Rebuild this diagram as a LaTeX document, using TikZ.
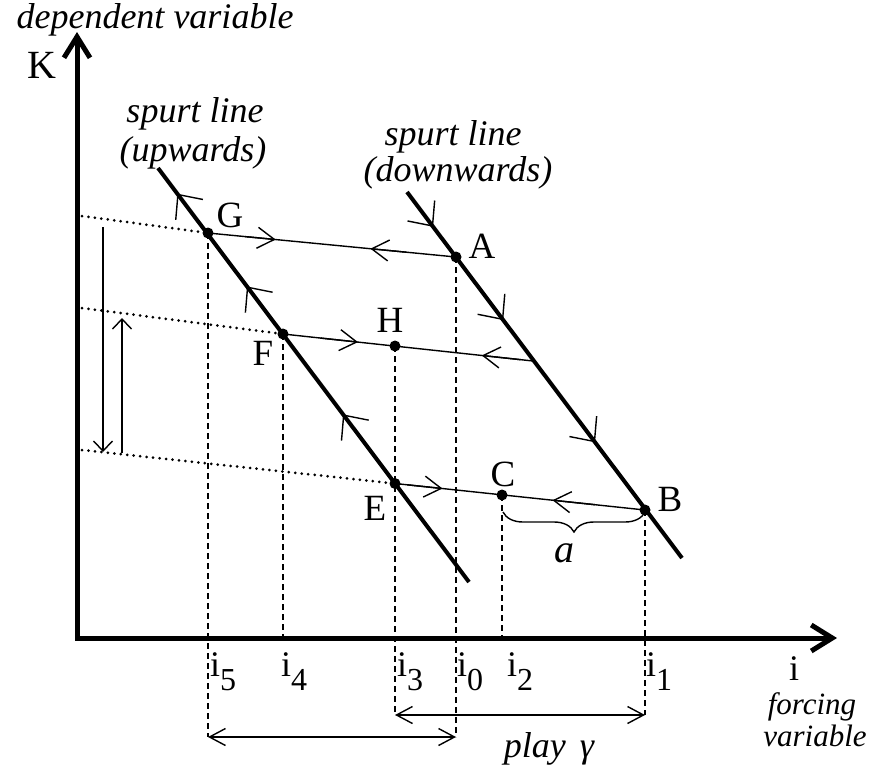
\documentclass[tikz,border=0pt]{standalone}
\usepackage{fontspec}
\setmainfont{Liberation Serif}
\usetikzlibrary{arrows.meta,calc,decorations.pathreplacing}
\begin{document}
\begin{tikzpicture}[x=1pt,y=-1pt,
  axisline/.style={line width=5pt, line join=miter,
    {Straight Barb[length=21pt,width=26pt]}-{Straight Barb[length=21pt,width=26pt]}},
  spurt/.style={line width=4pt},
  thinln/.style={line width=1.4pt},
  dashln/.style={line width=1.7pt, dash pattern=on 6pt off 4pt},
  dotln/.style={line width=3pt, line cap=round, dash pattern=on 0pt off 6.5pt},
  hchev/.style={line width=1.4pt, -{Straight Barb[length=17pt,width=21pt]}},
  schev/.style={line width=1.4pt, -{Straight Barb[length=19pt,width=34pt]}},
  vchev/.style={line width=1.4pt, -{Straight Barb[length=10pt,width=19pt]}},
  dimarr/.style={line width=1.4pt, {Straight Barb[length=16pt,width=17pt]}-{Straight Barb[length=16pt,width=17pt]}},
  ptdot/.style={fill=black},
  tlab/.style={inner sep=0pt, font=\fontsize{36}{36}\selectfont},
  plab/.style={inner sep=0pt, font=\fontsize{37}{37}\selectfont},
  slab/.style={inner sep=0pt, font=\fontsize{31}{31}\selectfont\itshape},
]
\useasboundingbox (0,0) rectangle (871,769);
% coordinates
\coordinate (Ytip) at (77,32);
\coordinate (Orig) at (77,638);
\coordinate (Xtip) at (837,638);
\coordinate (U1) at (158,168);
\coordinate (U2) at (469,582);
\coordinate (D1) at (407,192);
\coordinate (D2) at (682,558);
\coordinate (G) at (208,233);
\coordinate (A) at (456,257);
\coordinate (F) at (283,334);
\coordinate (M) at (533,361);
\coordinate (H) at (395,346);
\coordinate (E) at (395,483.5);
\coordinate (B) at (645,510);
\coordinate (C) at (502,495);
\coordinate (T1) at (82,216);
\coordinate (T2) at (82,308);
\coordinate (T3) at (82,450);
\coordinate (V1a) at (103,227);
\coordinate (V1b) at (103,452);
\coordinate (V2a) at (122,453);
\coordinate (V2b) at (122,318);
\coordinate (g5) at (G |- 0,737);
\coordinate (a0) at (A |- 0,737);
\coordinate (h3) at (H |- 0,715);
\coordinate (b1) at (B |- 0,715);
\coordinate (f4) at (F |- 0,638);
\coordinate (c2) at (C |- 0,638);
\coordinate (brR) at (645,512);
\coordinate (brL) at (503,512);

% dashed verticals
\draw[dashln] (G) -- (g5);
\draw[dashln] (A) -- (a0);
\draw[dashln] (H) -- (h3);
\draw[dashln] (B) -- (b1);
\draw[dashln] (F) -- (f4);
\draw[dashln] (C) -- (c2);

% dotted extensions
\draw[dotln] (T1) -- (G);
\draw[dotln] (T2) -- (F);
\draw[dotln] (T3) -- (E);

% vertical arrows at left
\draw[vchev] (V1a) -- (V1b);
\draw[vchev] (V2a) -- (V2b);

% horizontal paths
\draw[thinln] (G) -- (A);
\draw[thinln] (F) -- (M);
\draw[thinln] (E) -- (B);
\draw[hchev] ($(G)!0.15!(A)$) -- ($(G)!0.273!(A)$);
\draw[hchev] ($(A)!0.2!(G)$) -- ($(A)!0.345!(G)$);
\draw[hchev] ($(F)!0.15!(M)$) -- ($(F)!0.30!(M)$);
\draw[hchev] ($(M)!0.05!(F)$) -- ($(M)!0.205!(F)$);
\draw[hchev] ($(E)!0.05!(B)$) -- ($(E)!0.19!(B)$);
\draw[hchev] ($(B)!0.2!(E)$) -- ($(B)!0.37!(E)$);

% spurt lines
\draw[spurt] (U1) -- (U2);
\draw[spurt] (D1) -- (D2);
\draw[schev] ($(U2)!0.85!(U1)$) -- ($(U2)!0.938!(U1)$);
\draw[schev] ($(U2)!0.62!(U1)$) -- ($(U2)!0.714!(U1)$);
\draw[schev] ($(U2)!0.30!(U1)$) -- ($(U2)!0.405!(U1)$);
\draw[schev] ($(D1)!0.01!(D2)$) -- ($(D1)!0.095!(D2)$);
\draw[schev] ($(D1)!0.25!(D2)$) -- ($(D1)!0.35!(D2)$);
\draw[schev] ($(D1)!0.58!(D2)$) -- ($(D1)!0.684!(D2)$);

% axes
\draw[axisline] (Ytip) -- (Orig) -- (Xtip);

% points
\foreach \p in {G,A,F,H,E,C,B} \fill[ptdot] (\p) circle[radius=5.5pt];

% brace
\draw[thinln, decorate, decoration={brace, amplitude=20pt}] (brR) -- (brL);

% bottom dimension arrows
\draw[dimarr] (h3) -- (b1);
\draw[dimarr] (g5) -- (a0);

% labels
\node[tlab, anchor=base] (dv) at (155,28) {\itshape dependent variable};
\node[inner sep=0pt, font=\fontsize{40}{40}\selectfont, anchor=base] (Klab) at (42,78) {K};
\node[tlab, anchor=base] (su1) at (195,122) {\itshape spurt line};
\node[tlab, anchor=base] (su2) at (193,161) {\itshape (upwards)};
\node[tlab, anchor=base] (sd1) at (453,145) {\itshape spurt line};
\node[tlab, anchor=base] (sd2) at (458,181) {\itshape (downwards)};
\node[plab] (Glab) at (230,215) {G};
\node[plab] (Alab) at (482,246) {A};
\node[plab] (Hlab) at (390,320) {H};
\node[plab] (Flab) at (263,353) {F};
\node[plab] (Elab) at (375,508) {E};
\node[plab] (Clab) at (503,474) {C};
\node[plab] (Blab) at (670,499) {B};
\node[inner sep=0pt, font=\fontsize{40}{40}\selectfont\itshape] (alab) at (564,553) {a};
\node[tlab, anchor=base west] (i5) at (210,676) {i\raisebox{-14pt}{\fontsize{32}{32}\selectfont 5}};
\node[tlab, anchor=base west] (i4) at (281,676) {i\raisebox{-14pt}{\fontsize{32}{32}\selectfont 4}};
\node[tlab, anchor=base west] (i3) at (397,676) {i\raisebox{-14pt}{\fontsize{32}{32}\selectfont 3}};
\node[tlab, anchor=base west] (i0) at (457,676) {i\raisebox{-14pt}{\fontsize{32}{32}\selectfont 0}};
\node[tlab, anchor=base west] (i2) at (507,676) {i\raisebox{-14pt}{\fontsize{32}{32}\selectfont 2}};
\node[tlab, anchor=base west] (i1) at (646,676) {i\raisebox{-14pt}{\fontsize{32}{32}\selectfont 1}};
\node[tlab, anchor=base] (ilab) at (794,680) {i};
\node[slab, anchor=base] (forc) at (812,714) {forcing};
\node[slab, anchor=base] (varb) at (815,746) {variable};
\node[tlab, anchor=base] (play) at (549,757) {\itshape play\hspace{14pt}γ};
\end{tikzpicture}
\end{document}
